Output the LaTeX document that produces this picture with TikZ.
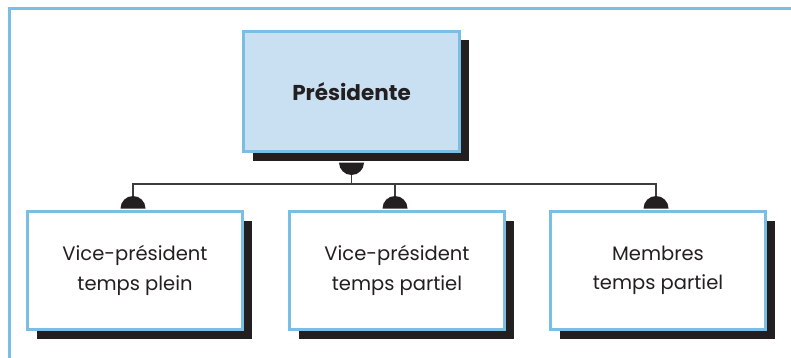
\documentclass[tikz,border=0pt]{standalone}
\usepackage{fontspec}
\setmainfont{Poppins}
\usetikzlibrary{shadows}
\definecolor{bordc}{RGB}{122,190,228}
\definecolor{fillc}{RGB}{200,224,242}
\definecolor{shadc}{RGB}{35,31,32}
\definecolor{linec}{RGB}{60,60,60}
\begin{document}
\begin{tikzpicture}[x=1pt,y=-1pt,
  box/.style={draw=bordc, line width=3pt, fill=white, text=shadc,
    minimum width=215pt, minimum height=118pt, inner sep=0pt, align=center,
    font=\fontsize{19.5}{29.5}\selectfont,
    drop shadow={shadow xshift=9pt, shadow yshift=-9pt, opacity=1, fill=shadc}},
  topbox/.style={box, fill=fillc, minimum width=216pt, minimum height=120pt,
    font=\fontsize{21.5}{29}\selectfont\bfseries},
  conn/.style={draw=linec, line width=1.3pt},
  knob/.style={fill=shadc},
  frame/.style={draw=bordc, line width=3pt}]
\useasboundingbox (0,0) rectangle (791,358);
\draw[frame] (9,358) -- (9,9) -- (791,9);
\node[topbox] (main) at (351.5,91.5) {Présidente};
\node[box] (c1) at (135,270.5) {Vice-président\\temps plein};
\node[box] (c2) at (397,270.5) {Vice-président\\temps partiel};
\node[box] (c3) at (658,270.5) {Membres\\temps partiel};
% knobs
\coordinate (mb) at ([yshift=-9.5pt]main.south);
\coordinate (mbb) at ([yshift=-21.5pt]main.south);
\fill[knob] ([xshift=-12.5pt]mb) arc[start angle=180, end angle=360, radius=12.5pt] -- cycle;
\foreach \c in {c1,c2,c3}{
  \coordinate (\c k) at ([xshift=-2pt,yshift=1.5pt]\c.north);
  \coordinate (\c t) at ([xshift=-2pt,yshift=14pt]\c.north);
  \fill[knob] ([xshift=-12.5pt]\c k) arc[start angle=180, end angle=0, radius=12.5pt] -- cycle;
}
\coordinate (bus) at (352,184);
\draw[conn] (mbb) -- (mbb |- bus);
\draw[conn] (c1t) |- (bus) -| (c3t);
\draw[conn] (c2t) -- (c2t |- bus);
\end{tikzpicture}
\end{document}
